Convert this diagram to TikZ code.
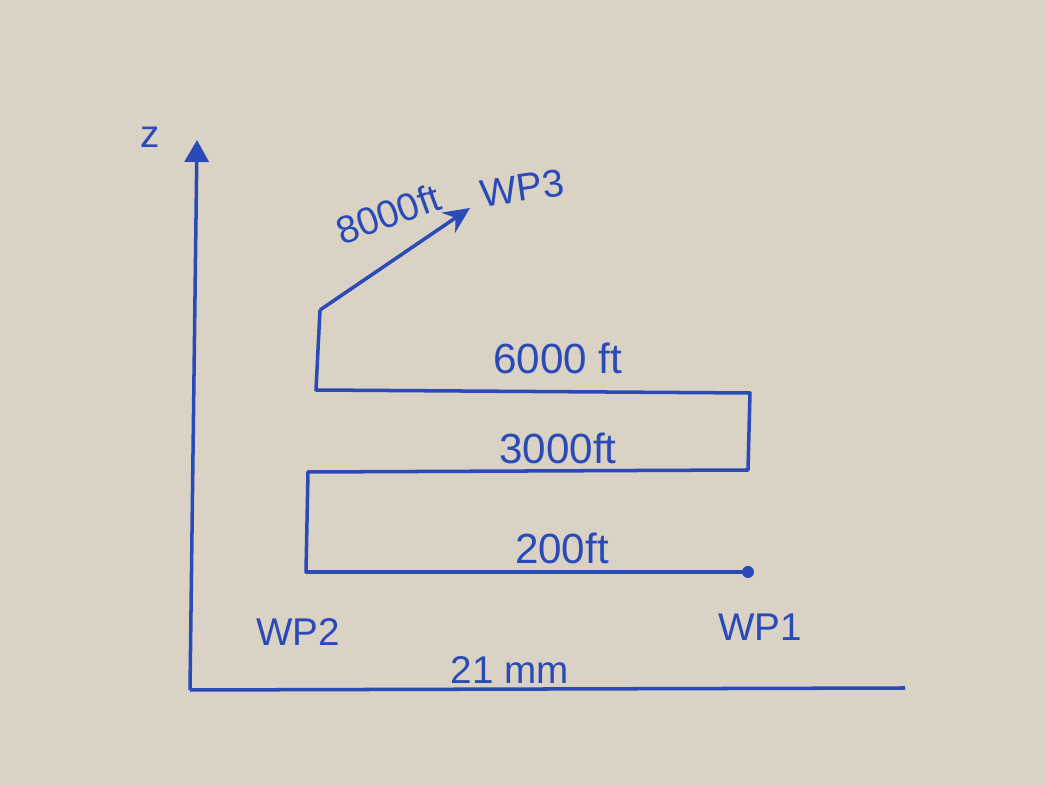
\documentclass[tikz,border=0pt]{standalone}
\usepackage{fontspec}
\setmainfont{Liberation Sans}
\usepackage{xcolor}
\usepackage{tikz}
\usetikzlibrary{positioning, shapes}
\usetikzlibrary{arrows.meta}
\definecolor{inkblue}{RGB}{42,74,184}
\definecolor{paper}{RGB}{217,210,197}

\begin{document}
\begin{tikzpicture}[x=0.1mm,y=-0.1mm]
            \tikzset{ink/.style = {draw=inkblue, line width=1pt, line join=round}}
            \tikzset{alt/.style = {text=inkblue, font=\fontsize{12}{14}\selectfont}}
            \tikzset{wp/.style = {text=inkblue, font=\fontsize{11}{13}\selectfont}}

            % paper
            \fill[paper] (0,0) rectangle (1046,785);
            \useasboundingbox (0,0) rectangle (1046,785);

            % axes
            \coordinate (o) at (190,690);
            \coordinate (ztop) at (197,140);
            \coordinate (xend) at (905,688);
            \draw[ink,-{Triangle[length=2.2mm,width=2.4mm]}] (o) -- (ztop);
            \draw[ink] (o) -- (xend);
            \node[wp] (zlab) at (150,137) {z};
            \node[wp] (xlab) at (510,670) {21 mm};

            % flight path
            \coordinate (p1) at (748,572);
            \coordinate (p2) at (306,572);
            \coordinate (p3) at (308,472);
            \coordinate (p4) at (748,470);
            \coordinate (p5) at (750,393);
            \coordinate (p6) at (316,390);
            \coordinate (p7) at (320,310);
            \coordinate (p8) at (470,208);
            \draw[ink] (p1) -- (p2) -- (p3) -- (p4) -- (p5) -- (p6) -- (p7);
            \draw[ink,-{Stealth[length=2.6mm,width=2.4mm]}] (p7) -- (p8);
            \fill[inkblue] (p1) circle (6);

            % altitudes
            \node[alt] (a200) at (562,548) {200ft};
            \node[alt] (a3000) at (558,448) {3000ft};
            \node[alt] (a6000) at (558,358) {6000 ft};
            \node[wp,rotate=20] (a8000) at (388,214) {8000ft};

            % waypoints
            \node[wp] (wp1) at (760,627) {WP1};
            \node[wp] (wp2) at (298,632) {WP2};
            \node[wp,rotate=8] (wp3) at (522,188) {WP3};
\end{tikzpicture}
\end{document}
